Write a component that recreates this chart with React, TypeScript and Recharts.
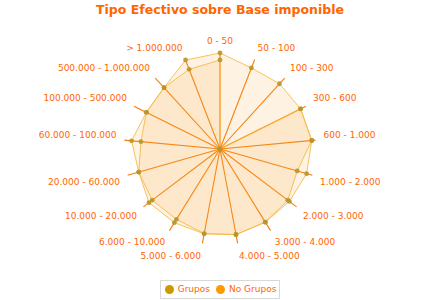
import {
  RadarChart, Radar, PolarGrid, PolarAngleAxis, PolarRadiusAxis, Legend,
} from "recharts";

const tramos = [
  "0 - 50", "50 - 100", "100 - 300", "300 - 600", "600 - 1.000",
  "1.000 - 2.000", "2.000 - 3.000", "3.000 - 4.000", "4.000 - 5.000",
  "5.000 - 6.000", "6.000 - 10.000", "10.000 - 20.000", "20.000 - 60.000",
  "60.000 - 100.000", "100.000 - 500.000", "500.000 - 1.000.000", "> 1.000.000",
];
const grupos = [100, 90.6, 92, 93.8, 96, 93.8, 90.6, 89.7, 90.8, 89.9, 90.3, 92.7, 88, 92.5, 85.7, 86.5, 99.4];
const noGrupos = [92.7, 0, 0, 93.8, 96, 83.6, 88.5, 89.6, 90.6, 89.6, 86.2, 88.5, 88, 82.7, 85.7, 86.5, 89];

const series = [
  { key: "Grupos", color: "#cc9900" },
  { key: "No Grupos", color: "#ff9900" },
];

const data = tramos.map((t, i) => ({ tramo: t, Grupos: grupos[i], "No Grupos": noGrupos[i] }));

const ORANGE = "#ff6600";
const FONT = "'DejaVu Sans', Verdana, sans-serif";

function Tick(props: any) {
  const { x, y, payload } = props;
  const rad = (payload.coordinate * Math.PI) / 180;
  const dx = Math.cos(rad);
  const dy = -Math.sin(rad);
  const anchor = dx > 0.01 ? "start" : dx < -0.01 ? "end" : "middle";
  return (
    <text
      x={x}
      y={y + (dy < 0 ? -4.5 : 4.5)}
      textAnchor={anchor}
      dominantBaseline="central"
      fill={ORANGE}
      fontSize={9}
      fontFamily={FONT}
    >
      {payload.value}
    </text>
  );
}

function Dot(props: any) {
  const { cx, cy } = props;
  return <circle cx={cx} cy={cy} r={2.4} fill="#b8962a" fillOpacity={0.9} />;
}

function LegendBox() {
  return (
    <div style={{ width: 440, textAlign: "center", lineHeight: 0 }}>
      <div
        style={{
          display: "inline-flex",
          alignItems: "center",
          border: "1px solid #d9d9d9",
          padding: "2px 3px 2px 4px",
          fontFamily: FONT,
          fontSize: 9,
          color: ORANGE,
          background: "#fff",
        }}
      >
        {series.map((s, i) => (
          <span key={s.key} style={{ display: "inline-flex", alignItems: "center", marginLeft: i ? 6 : 0 }}>
            <span
              style={{
                width: 9, height: 9, borderRadius: "50%", background: s.color,
                display: "inline-block", marginRight: 4,
              }}
            />
            <span style={{ lineHeight: "13px" }}>{s.key}</span>
          </span>
        ))}
      </div>
    </div>
  );
}

export default function App() {
  return (
    <div style={{ position: "absolute", left: 0, top: 0, width: 440, height: 300, background: "#fff" }}>
      <div
        style={{
          position: "absolute", top: 2, left: 0, width: 440, textAlign: "center",
          fontFamily: FONT, fontWeight: "bold", fontSize: 12.5, color: ORANGE, lineHeight: "16px",
        }}
      >
        Tipo Efectivo sobre Base imponible
      </div>
      <RadarChart
        width={440}
        height={300}
        data={data}
        cx={220}
        cy={149}
        outerRadius={96}
        margin={{ top: 0, right: 0, bottom: 0, left: 0 }}
      >
        <PolarGrid polarRadius={[]} stroke="#f87a08" strokeWidth={1.1} />
        <PolarAngleAxis dataKey="tramo" tick={<Tick />} axisLine={false} tickLine={false} />
        <PolarRadiusAxis domain={[0, 100]} tick={false} axisLine={false} />
        {series.map((s) => (
          <Radar
            key={s.key}
            name={s.key}
            dataKey={s.key}
            stroke="#f5b840"
            strokeOpacity={0.85}
            fill="#f5b041"
            fillOpacity={0.15}
            dot={<Dot />}
            isAnimationActive={false}
          />
        ))}
        <Legend
          verticalAlign="bottom"
          content={() => <LegendBox />}
          wrapperStyle={{ left: 0, width: 440, bottom: 1 }}
        />
      </RadarChart>
    </div>
  );
}
